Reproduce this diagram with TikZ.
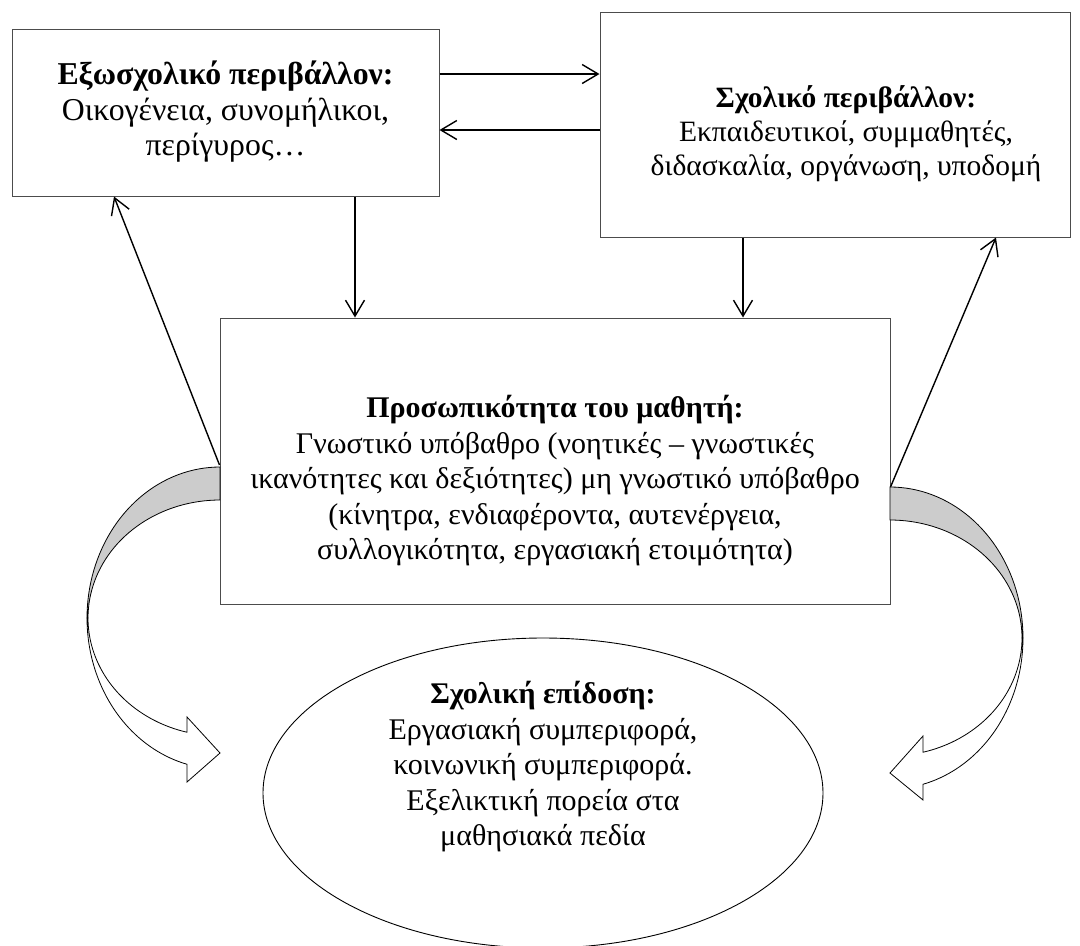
\documentclass[tikz,border=0pt]{standalone}
\usepackage{fontspec}
\setmainfont{Liberation Serif}
\usetikzlibrary{arrows.meta,shapes.geometric}
\begin{document}
\begin{tikzpicture}[x=1pt,y=-1pt,
  boxnode/.style={draw=black!70, line width=1pt, rectangle, inner sep=0pt, fill=white},
  txt/.style={align=center, font=\fontsize{30}{35.5}\selectfont, inner sep=0pt},
  arr/.style={line width=1.4pt, -{Straight Barb[length=16pt,width=19pt,line width=1.4pt]}},
  band/.style={draw=black, line width=0.8pt}]
\useasboundingbox (0,0) rectangle (1080,946);
% boxes
\node[boxnode, minimum width=427pt, minimum height=167pt] (ext) at (225.5,112.5) {};
\node[boxnode, minimum width=470pt, minimum height=225pt] (sch) at (835,124.5) {};
\node[boxnode, minimum width=670pt, minimum height=286pt] (pers) at (555,461) {};
\node[draw, ellipse, line width=0.9pt, minimum width=560pt, minimum height=310pt, inner sep=0pt] (perf) at (543,793) {};
% texts
\node[txt, font=\fontsize{31.8}{35.5}\selectfont] (extT) at (225.5,112) {\textbf{Εξωσχολικό περιβάλλον:}\\Οικογένεια, συνομήλικοι,\\περίγυρος…};
\node[txt, font=\fontsize{29.5}{34}\selectfont] (schT) at (846,134) {\textbf{Σχολικό περιβάλλον:}\\Εκπαιδευτικοί, συμμαθητές,\\διδασκαλία, οργάνωση, υποδομή};
\node[txt] (persT) at (555,481) {\textbf{Προσωπικότητα του μαθητή:}\\Γνωστικό υπόβαθρο (νοητικές – γνωστικές\\ικανότητες και δεξιότητες) μη γνωστικό υπόβαθρο\\(κίνητρα, ενδιαφέροντα, αυτενέργεια,\\συλλογικότητα, εργασιακή ετοιμότητα)};
\node[txt] (perfT) at (543,767) {\textbf{Σχολική επίδοση:}\\Εργασιακή συμπεριφορά,\\κοινωνική συμπεριφορά.\\Εξελικτική πορεία στα\\μαθησιακά πεδία};
% straight connectors
\draw[arr] ([yshift=38.5pt]ext.east) -- ([yshift=50.5pt]sch.west);
\draw[arr] ([yshift=-5.5pt]sch.west) -- ([yshift=-17.5pt]ext.east);
\draw[arr] ([xshift=129.5pt]ext.south) -- ([xshift=-200pt]pers.north);
\draw[arr] ([xshift=-92pt]sch.south) -- ([xshift=188pt]pers.north);
\draw[arr] ([yshift=-4pt]pers.west) -- ([xshift=-111.5pt]ext.south);
\draw[arr] ([yshift=-26pt]pers.east) -- ([xshift=161pt]sch.south);
% left curved arrow
\filldraw[band, fill=black!20]
  plot[domain=0:90, samples=40] ({220+133*cos(270-\x)},{618+151*sin(270-\x)})
  -- plot[domain=0:90, samples=40] ({220+132*cos(180+\x)},{618+118*sin(180+\x)}) -- cycle;
\filldraw[band, fill=white]
  plot[domain=0:75.6, samples=40] ({220+133*cos(180-\x)},{618+151*sin(180-\x)})
  -- (187,782) -- (220,753) -- (187,717) -- (187,732)
  -- plot[domain=0:75.5, samples=40] ({220+132*cos(104.5+\x)},{618+118*sin(104.5+\x)}) -- cycle;
% right curved arrow
\filldraw[band, fill=black!20]
  plot[domain=0:90, samples=40] ({890-133*cos(270-\x)},{638+151*sin(270-\x)})
  -- plot[domain=0:90, samples=40] ({890-132*cos(180+\x)},{638+118*sin(180+\x)}) -- cycle;
\filldraw[band, fill=white]
  plot[domain=0:75.6, samples=40] ({890-133*cos(180-\x)},{638+151*sin(180-\x)})
  -- (923,800) -- (890,773) -- (923,736) -- (923,752)
  -- plot[domain=0:75.5, samples=40] ({890-132*cos(104.5+\x)},{638+118*sin(104.5+\x)}) -- cycle;
\end{tikzpicture}
\end{document}
